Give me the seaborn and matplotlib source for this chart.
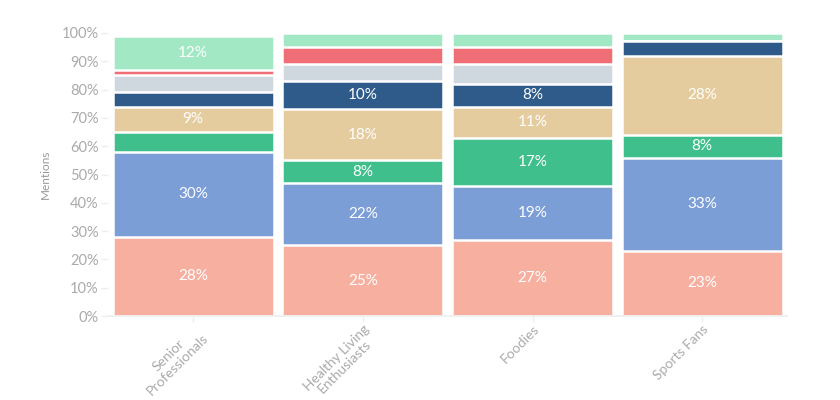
import numpy as np
import pandas as pd
import matplotlib
matplotlib.use("Agg")
import matplotlib.pyplot as plt
import seaborn as sns

segments = ["Senior\nProfessionals", "Healthy Living\nEnthusiasts", "Foodies", "Sports Fans"]

# share of mentions per topic (bottom to top of each stack)
topic_a = [28, 25, 27, 23]
topic_b = [30, 22, 19, 33]
topic_c = [7, 8, 17, 8]
topic_d = [9, 18, 11, 28]
topic_e = [5, 10, 8, 5]
topic_f = [6, 6, 7, 0]
topic_g = [2, 6, 6, 0]
topic_h = [12, 5, 5, 3]

series = [topic_a, topic_b, topic_c, topic_d, topic_e, topic_f, topic_g, topic_h]
colors = ["#F7AFA0", "#7B9ED6", "#3FBF8C", "#E5CC9F",
          "#2E5B8A", "#CFD8DF", "#F06E76", "#A2E8C5"]

sns.set_theme(style="white")
plt.rcParams["font.family"] = ["Lato", "DejaVu Sans"]

vals = np.array(series, dtype=float)
cum = vals.cumsum(axis=0)

fig, ax = plt.subplots(figsize=(8.4, 4.0), dpi=100)
fig.subplots_adjust(left=0.129, right=0.937, bottom=0.21, top=0.9175)

# stacked by overlaying cumulative totals, tallest first
for i in range(len(series) - 1, -1, -1):
    df = pd.DataFrame({"segment": segments, "value": cum[i]})
    sns.barplot(data=df, x="segment", y="value", color=colors[i],
                saturation=1, width=0.95, edgecolor="white",
                linewidth=1.8, ax=ax, errorbar=None)

for i in range(len(series)):
    for j in range(len(segments)):
        v = vals[i, j]
        if v >= 8:
            ax.text(j, cum[i, j] - v / 2, f"{v:.0f}%", ha="center", va="center",
                    color="white", fontsize=11)

ax.set_ylim(0, 100)
ax.set_xlim(-0.5, 3.5)
ax.set_yticks(range(0, 101, 10))
ax.set_yticklabels([f"{t}%" for t in range(0, 101, 10)])
ax.set_ylabel("Mentions", color="#999999", fontsize=8.5, labelpad=8)
ax.set_xlabel("")
ax.tick_params(axis="y", colors="#EEEEEE", labelcolor="#AAAAAA", labelsize=10.5,
               length=5, width=1, left=True, pad=2)
ax.tick_params(axis="x", colors="#EEEEEE", labelcolor="#AAAAAA", labelsize=10,
               length=4, width=1, bottom=True, pad=1)
for lbl in ax.get_xticklabels():
    lbl.set_rotation(45)
    lbl.set_ha("right")
    lbl.set_rotation_mode("anchor")
    lbl.set_multialignment("center")
    lbl.set_linespacing(1.0)

for s in ["top", "right", "left"]:
    ax.spines[s].set_visible(False)
ax.spines["bottom"].set_color("#EEEEEE")

fig.savefig("out.png", dpi=100)
